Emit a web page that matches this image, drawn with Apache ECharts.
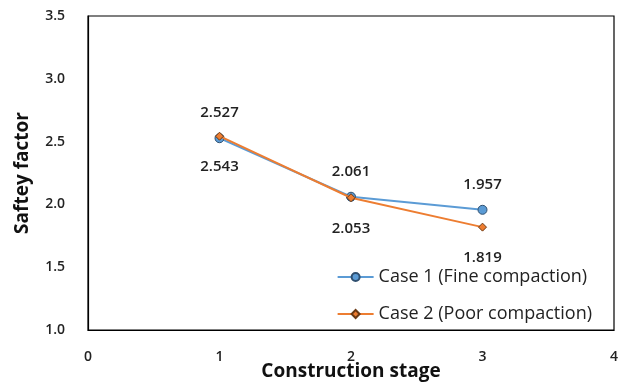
<!DOCTYPE html>
<html>
<head>
<meta charset="utf-8">
<script src="https://cdn.jsdelivr.net/npm/echarts@6/dist/echarts.min.js"></script>
<style>
  html, body { margin: 0; padding: 0; background: #fff; }
  #chart { width: 622px; height: 385px; }
</style>
</head>
<body>
<div id="chart"></div>
<script>
// Construction stages and safety factors for the two compaction cases
const stages = [1, 2, 3];
const case1Values = [2.527, 2.061, 1.957];
const case2Values = [2.543, 2.053, 1.819];
const seriesNames = ['Case 1 (Fine compaction)', 'Case 2 (Poor compaction)'];
const xTicks = [0, 1, 2, 3, 4];
const yTicks = [1.0, 1.5, 2.0, 2.5, 3.0, 3.5];

const FONT = '"Open Sans", "Noto Sans", sans-serif';
const chart = echarts.init(document.getElementById('chart'));

function pairs(values) {
  return stages.map((s, i) => [s, values[i]]);
}

chart.setOption({
  animation: false,
  grid: {
    left: 88, right: 8, top: 16, bottom: 55,
    outerBoundsMode: 'none', containLabel: false,
    show: true, borderColor: '#000', borderWidth: 1.2, backgroundColor: 'transparent'
  },
  xAxis: {
    type: 'value',
    min: xTicks[0], max: xTicks[xTicks.length - 1], interval: 1,
    name: 'Construction stage', nameLocation: 'middle', nameGap: 32,
    nameMoveOverlap: false,
    nameTextStyle: { fontFamily: FONT, fontSize: 19, fontWeight: 'bold', color: '#111' },
    axisLine: { lineStyle: { color: '#000', width: 1.2 } },
    axisTick: { show: false },
    splitLine: { show: false },
    axisLabel: { fontFamily: FONT, fontSize: 14, fontWeight: 600, color: '#222', margin: 20 }
  },
  yAxis: {
    type: 'value',
    min: yTicks[0], max: yTicks[yTicks.length - 1], interval: 0.5,
    name: 'Saftey factor', nameLocation: 'middle', nameGap: 56,
    nameMoveOverlap: false,
    nameTextStyle: { fontFamily: FONT, fontSize: 19, fontWeight: 'bold', color: '#111' },
    axisLine: { show: true, lineStyle: { color: '#000', width: 1.2 } },
    axisTick: { show: false },
    splitLine: { show: false },
    axisLabel: {
      fontFamily: FONT, fontSize: 14, fontWeight: 600, color: '#222', margin: 23,
      formatter: v => v.toFixed(1)
    }
  },
  legend: {
    orient: 'vertical', right: 25, top: 263, itemGap: 19,
    itemWidth: 36, itemHeight: 10,
    textStyle: { fontFamily: FONT, fontSize: 18, color: '#222' },
    data: seriesNames
  },
  series: [
    {
      name: seriesNames[0], type: 'line', data: pairs(case1Values),
      symbol: 'circle', symbolSize: 9,
      lineStyle: { color: '#5B9BD5', width: 2 },
      itemStyle: { color: '#5B9BD5', borderColor: '#2F4F6F', borderWidth: 1 },
      label: {
        show: true, position: 'top', distance: 13,
        fontFamily: FONT, fontSize: 15, fontWeight: 600, color: '#222',
        formatter: p => p.value[1].toFixed(3)
      },
      z: 2
    },
    {
      name: seriesNames[1], type: 'line', data: pairs(case2Values),
      symbol: 'diamond', symbolSize: 8,
      lineStyle: { color: '#ED7D31', width: 2 },
      itemStyle: { color: '#ED7D31', borderColor: '#6B3A15', borderWidth: 1 },
      label: {
        show: true, position: 'bottom', distance: 19,
        fontFamily: FONT, fontSize: 15, fontWeight: 600, color: '#222',
        formatter: p => p.value[1].toFixed(3)
      },
      z: 3
    }
  ]
});
</script>
</body>
</html>
